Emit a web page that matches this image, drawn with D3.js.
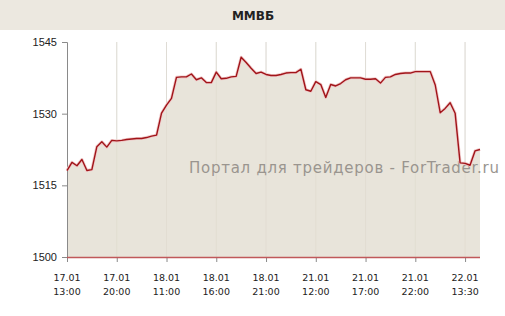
<!DOCTYPE html>
<html>
<head>
<meta charset="utf-8">
<script src="https://cdn.jsdelivr.net/npm/d3@7"></script>
<style>
  body { margin: 0; background: #fff; }
  svg { display: block; font-family: "DejaVu Sans", Verdana, sans-serif; }
</style>
</head>
<body>
<svg id="chart" width="505" height="316"></svg>
<script>
// MICEX index values, one point per step
const values = [
    1518.1, 1519.8, 1519.1, 1520.4, 1518.1, 1518.3, 1523.1, 1524.1, 1523.0, 1524.4,
    1524.3, 1524.4, 1524.6, 1524.7, 1524.8, 1524.8, 1525.0, 1525.3, 1525.5, 1530.1,
    1531.8, 1533.2, 1537.6, 1537.7, 1537.7, 1538.3, 1537.1, 1537.5, 1536.5, 1536.5,
    1538.7, 1537.3, 1537.4, 1537.7, 1537.8, 1541.8, 1540.7, 1539.5, 1538.4, 1538.7,
    1538.2, 1538.0, 1538.0, 1538.2, 1538.5, 1538.6, 1538.6, 1539.3, 1535.0, 1534.7,
    1536.7, 1536.1, 1533.4, 1536.1, 1535.8, 1536.3, 1537.1, 1537.5, 1537.5, 1537.5,
    1537.2, 1537.2, 1537.3, 1536.4, 1537.6, 1537.7, 1538.2, 1538.4, 1538.5, 1538.5,
    1538.8, 1538.8, 1538.8, 1538.8, 1536.0, 1530.2, 1531.1, 1532.3, 1530.1, 1519.7,
    1519.6, 1519.2, 1522.2, 1522.5
];

const tickIndex = [0, 10, 20, 30, 40, 50, 60, 70, 80];
const tickLabels = [
    ["17.01", "13:00"], ["17.01", "20:00"], ["18.01", "11:00"],
    ["18.01", "16:00"], ["18.01", "21:00"], ["21.01", "12:00"],
    ["21.01", "17:00"], ["21.01", "22:00"], ["22.01", "13:30"]
];
const yTicks = [1500, 1515, 1530, 1545];

const title = "ММВБ";
const watermark = "Портал для трейдеров - ForTrader.ru";

const svg = d3.select("#chart");
const width = +svg.attr("width");

const x = d3.scaleLinear()
    .domain([0, values.length - 1])
    .range([67, 480]);

const y = d3.scaleLinear()
    .domain([1500, 1545])
    .range([257, 42]);

// title band
svg.append("rect")
    .attr("x", 0).attr("y", 0)
    .attr("width", width).attr("height", 30)
    .attr("fill", "#ece8e0");

svg.append("text")
    .attr("x", 253).attr("y", 20)
    .attr("text-anchor", "middle")
    .attr("font-size", "12px")
    .attr("font-weight", "bold")
    .attr("fill", "#222")
    .text(title);

// vertical grid
svg.selectAll(".grid")
    .data(tickIndex.slice(1))
    .enter().append("line")
    .attr("class", "grid")
    .attr("x1", d => x(d)).attr("x2", d => x(d))
    .attr("y1", y(1545)).attr("y2", y(1500))
    .attr("stroke", "#e2e2e2")
    .attr("stroke-width", 1);

// area
const area = d3.area()
    .x((d, i) => x(i))
    .y0(y(1500))
    .y1(d => y(d));

svg.append("path")
    .datum(values)
    .attr("d", area)
    .attr("fill", "#e8e4da");

// grid lines show faintly through the fill
svg.selectAll(".grid2")
    .data(tickIndex.slice(1))
    .enter().append("line")
    .attr("x1", d => x(d)).attr("x2", d => x(d))
    .attr("y1", y(1545)).attr("y2", y(1500))
    .attr("stroke", "#ddd8cc")
    .attr("stroke-opacity", 0.6);

// watermark
svg.append("text")
    .attr("x", 189).attr("y", 173)
    .attr("font-size", "15px")
    .attr("fill", "#9a958f")
    .attr("textLength", 310)
    .text(watermark);

// y axis
const yAxis = d3.axisLeft(y)
    .tickValues(yTicks)
    .tickSize(5)
    .tickPadding(5)
    .tickFormat(d3.format("d"));

const gy = svg.append("g")
    .attr("transform", "translate(67,0)")
    .call(yAxis);
gy.select(".domain").attr("stroke", "#8a8a8a");
gy.selectAll(".tick line").attr("stroke", "#8a8a8a");
gy.selectAll(".tick text")
    .attr("font-size", "11px")
    .attr("fill", "#222");

// x axis
const xAxis = d3.axisBottom(x)
    .tickValues(tickIndex)
    .tickSize(5)
    .tickFormat("");

const gx = svg.append("g")
    .attr("transform", `translate(0,${y(1500)})`)
    .call(xAxis);
gx.select(".domain").remove();
gx.selectAll(".tick line").attr("stroke", "#8a8a8a");

const labels = svg.selectAll(".xlabel")
    .data(tickIndex)
    .enter().append("text")
    .attr("class", "xlabel")
    .attr("text-anchor", "middle")
    .attr("font-size", "9.5px")
    .attr("fill", "#222");

labels.each(function(d, i) {
    const t = d3.select(this);
    tickLabels[i].forEach((s, k) => {
        t.append("tspan")
            .attr("x", x(d))
            .attr("y", 281 + k * 14)
            .text(s);
    });
});

// baseline
svg.append("line")
    .attr("x1", 67).attr("x2", 480)
    .attr("y1", y(1500) + 0.5).attr("y2", y(1500) + 0.5)
    .attr("stroke", "#c0585a")
    .attr("stroke-width", 1.5);

// price line
const line = d3.line()
    .x((d, i) => x(i))
    .y(d => y(d));

svg.append("path")
    .datum(values)
    .attr("d", line)
    .attr("fill", "none")
    .attr("stroke", "#f0c8c8")
    .attr("stroke-width", 3)
    .attr("stroke-linejoin", "round");

svg.append("path")
    .datum(values)
    .attr("d", line)
    .attr("fill", "none")
    .attr("stroke", "#a01419")
    .attr("stroke-width", 1.4)
    .attr("stroke-linejoin", "round");
</script>
</body>
</html>
